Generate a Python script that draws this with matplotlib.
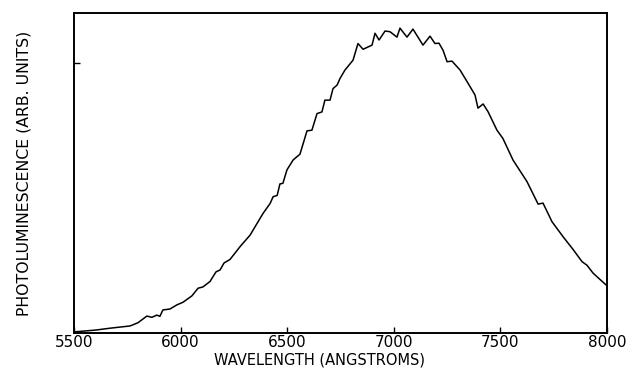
import matplotlib
matplotlib.use("Agg")
import matplotlib.pyplot as plt

# wavelength (angstroms) and photoluminescence (arb. units, 0-100 of the frame height)
wavelength = [5500, 5509, 5600, 5669, 5763, 5800, 5842, 5865, 5889, 5903, 5917, 5950,
              5983, 6011, 6053, 6082, 6105, 6138, 6166, 6185, 6204, 6232, 6279, 6326,
              6387, 6420, 6434, 6453, 6466, 6480, 6499, 6528, 6560, 6593, 6616, 6640,
              6663, 6677, 6701, 6715, 6734, 6748, 6771, 6809, 6832, 6856, 6898, 6912,
              6931, 6959, 6982, 7015, 7029, 7062, 7090, 7137, 7170, 7193, 7212, 7231,
              7250, 7273, 7311, 7358, 7381, 7395, 7419, 7442, 7484, 7512, 7559, 7625,
              7677, 7700, 7742, 7794, 7840, 7883, 7906, 7935, 7996, 8000]
intensity = [0.4, 0.4, 0.9, 1.5, 2.2, 3.2, 5.3, 4.9, 5.6, 5.2, 7.2, 7.5,
             8.8, 9.6, 11.6, 14.0, 14.4, 16.1, 19.1, 19.7, 21.9, 23.0, 27.0, 30.6,
             37.4, 40.5, 42.6, 43.0, 46.6, 46.8, 51.0, 54.1, 55.9, 63.2, 63.4, 68.6,
             69.1, 72.8, 72.8, 76.4, 77.5, 79.6, 82.2, 85.3, 90.5, 88.7, 90.0, 93.7,
             91.6, 94.4, 94.2, 92.5, 95.3, 92.5, 95.0, 90.0, 92.8, 90.5, 90.6, 88.4,
             84.8, 85.0, 82.2, 77.0, 74.4, 70.3, 71.6, 69.2, 63.4, 60.8, 54.1, 47.3,
             40.3, 40.6, 34.8, 30.1, 26.2, 22.3, 21.2, 18.7, 15.0, 15.0]

x_ticks = [5500, 6000, 6500, 7000, 7500, 8000]
y_ticks = [84.4]

fig = plt.figure(figsize=(6.29, 3.75), dpi=100)
ax = fig.add_axes([0.1176, 0.112, 0.8474, 0.853])

ax.plot(wavelength, intensity, color="black", linewidth=1.1)

ax.set_xlim(5500, 8000)
ax.set_ylim(0, 100)
ax.set_xticks(x_ticks)
ax.set_xticklabels([str(t) for t in x_ticks], fontsize=11)
ax.set_yticks(y_ticks)
ax.set_yticklabels([])
ax.tick_params(direction="in", length=4, width=1, pad=1.5)

for s in ax.spines.values():
    s.set_linewidth(1.4)

ax.set_xlabel("WAVELENGTH (ANGSTROMS)", fontsize=10.5)
ax.xaxis.set_label_coords(0.46, -0.062)
ax.set_ylabel("PHOTOLUMINESCENCE (ARB. UNITS)", fontsize=11.3)
ax.yaxis.set_label_coords(-0.08, 0.5)

fig.savefig("out.png", dpi=100)
